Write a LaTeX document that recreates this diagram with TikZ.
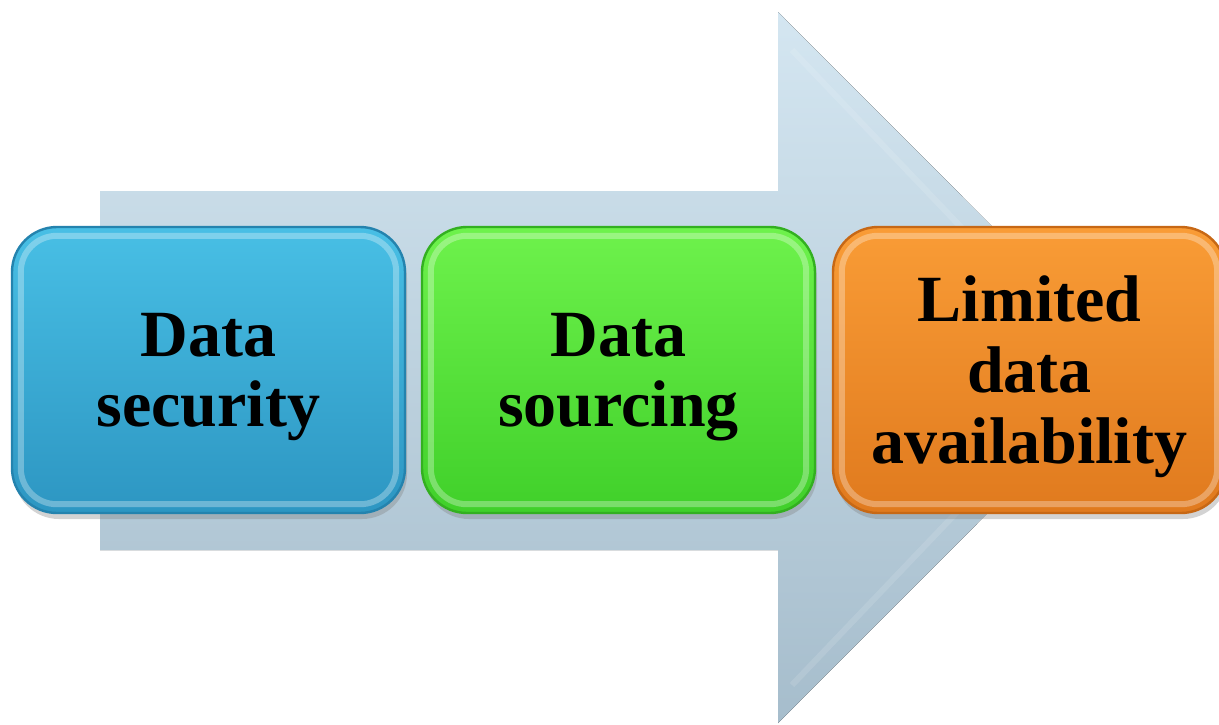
\documentclass[tikz,border=0pt]{standalone}
\usepackage{fontspec}
\setmainfont{Liberation Serif}
\usetikzlibrary{shadows}
\definecolor{arrowtop}{HTML}{D4E6F1}
\definecolor{arrowbot}{HTML}{A6BDCC}
\definecolor{bluetop}{HTML}{48BFE5}
\definecolor{bluebot}{HTML}{2D96C2}
\definecolor{blueedge}{HTML}{2483AE}
\definecolor{greentop}{HTML}{6EF24C}
\definecolor{greenbot}{HTML}{40D02A}
\definecolor{greenedge}{HTML}{33B020}
\definecolor{orangetop}{HTML}{F99C36}
\definecolor{orangebot}{HTML}{E07A1E}
\definecolor{orangeedge}{HTML}{C76815}
\tikzset{
  stagebox/.style={rounded corners=22.5pt, minimum width=196.5pt, minimum height=143pt,
    inner sep=0pt, line width=1.2pt,
    drop shadow={opacity=0.35, shadow xshift=1pt, shadow yshift=-3pt}},
  bluebox/.style={stagebox, draw=blueedge, top color=bluetop, bottom color=bluebot},
  greenbox/.style={stagebox, draw=greenedge, top color=greentop, bottom color=greenbot},
  orangebox/.style={stagebox, draw=orangeedge, top color=orangetop, bottom color=orangebot},
  bevel/.style={rounded corners=18pt, draw=white, draw opacity=0.3, line width=3pt},
  stagetext/.style={align=center, inner sep=0pt, font=\fontsize{33}{35}\selectfont\bfseries}
}
\newcommand{\bevelof}[1]{%
  \draw[bevel] ([shift={(5pt,-5pt)}]#1.north west) rectangle ([shift={(-5pt,5pt)}]#1.south east);}
\begin{document}
\begin{tikzpicture}[x=0.5pt, y=-0.5pt]
  \useasboundingbox (0,0) rectangle (1219,724);
  \clip (0,0) rectangle (1219,724);
  % large background arrow
  \fill[top color=arrowtop, bottom color=arrowbot]
    (100,191) -- (778,191) -- (778,12) -- (1133,367.5) -- (778,723)
    -- (778,550) -- (100,550) -- cycle;
  \draw[white, opacity=0.12, line width=3pt, line join=round]
    (792,50) -- (1095,367.5) -- (792,685);
  % stage boxes
  \node[bluebox] (sec) at (208.5,370) {};
  \node[greenbox] (src) at (618.5,370) {};
  \node[orangebox] (lim) at (1029.5,370) {};
  \bevelof{sec}
  \bevelof{src}
  \bevelof{lim}
  % stage labels
  \node[stagetext] (secT) at ([yshift=-3.5pt]sec.center) {Data\\security};
  \node[stagetext] (srcT) at ([yshift=-3.5pt]src.center) {Data\\sourcing};
  \node[stagetext, font=\fontsize{33}{35.5}\selectfont\bfseries] (limT)
    at ([yshift=-3.5pt]lim.center) {Limited\\data\\availability};
\end{tikzpicture}
\end{document}
